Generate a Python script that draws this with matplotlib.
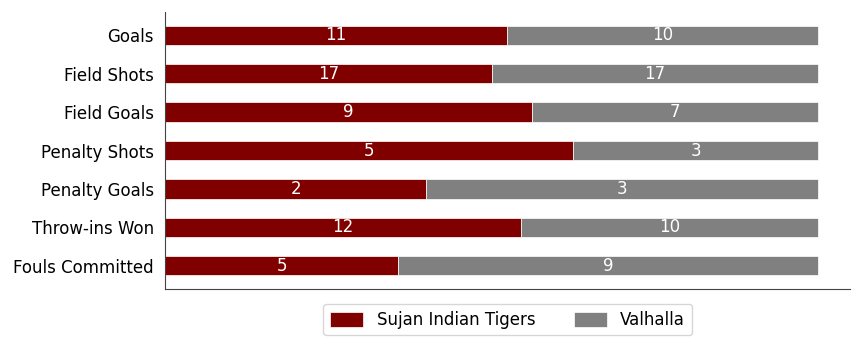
import matplotlib.pyplot as plt
import numpy as np

categories = ["Goals", "Field Shots", "Field Goals", "Penalty Shots",
              "Penalty Goals", "Throw-ins Won", "Fouls Committed"]
tigers = [11, 17, 9, 5, 2, 12, 5]
valhalla = [10, 17, 7, 3, 3, 10, 9]

tigers = np.array(tigers, dtype=float)
valhalla = np.array(valhalla, dtype=float)
total = tigers + valhalla
t_share = tigers / total
v_share = valhalla / total

fig = plt.figure(figsize=(8.64, 3.46), dpi=100)
ax = fig.add_axes([0.191, 0.165, 0.793, 0.8])

y = np.arange(len(categories))
ax.barh(y, t_share, height=0.5, color="#800000", edgecolor="#ffffff", linewidth=0.5,
        label="Sujan Indian Tigers")
ax.barh(y, v_share, left=t_share, height=0.5, color="#808080", edgecolor="#ffffff",
        linewidth=0.5, label="Valhalla")

for i in range(len(categories)):
    ax.text(t_share[i] / 2, y[i], f"{int(tigers[i])}", color="white",
            ha="center", va="center", fontsize=12)
    ax.text(t_share[i] + v_share[i] / 2, y[i], f"{int(valhalla[i])}", color="white",
            ha="center", va="center", fontsize=12)

ax.set_yticks(y)
ax.set_yticklabels(categories, fontsize=12)
ax.set_ylim(6.6, -0.6)
ax.set_xlim(0, 1.049)
ax.set_xticks([])
ax.tick_params(axis="y", length=0, pad=8)
for s in ["top", "right"]:
    ax.spines[s].set_visible(False)
for s in ["left", "bottom"]:
    ax.spines[s].set_color("#444444")

ax.legend(loc="upper center", bbox_to_anchor=(0.5, -0.025), ncol=2, fontsize=12,
          frameon=True, edgecolor="#cccccc", columnspacing=2.3,
          handlelength=2.0, handleheight=1.0)

fig.savefig("out.png", dpi=100)
